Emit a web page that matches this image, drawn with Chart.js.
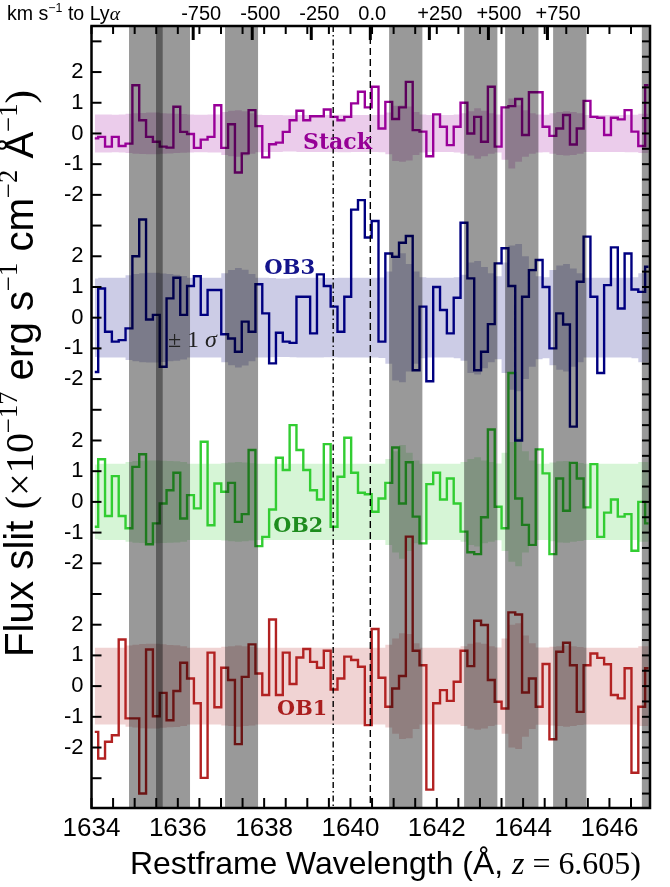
<!DOCTYPE html>
<html>
<head>
<meta charset="utf-8">
<script src="https://cdn.jsdelivr.net/npm/chart.js@4.4.0/dist/chart.umd.min.js"></script>
<style>
  html, body { margin: 0; padding: 0; background: #fff; }
  canvas { display: block; }
</style>
</head>
<body>
<canvas id="spec" width="670" height="887"></canvas>
<script>
// restframe wavelength of the first pixel and pixel size (A)
const WAVE_START = 1634.076
const WAVE_STEP = 0.1584

// flux per pixel (1e-17 erg/s/cm2/A)
const stackFlux = [-0.16, -0.11, -0.43, -0.11, -0.41, -0.33, 1.57, 0.43, -0.11, -0.27,
  -0.43, -0.46, 0.87, 0.05, -0.02, -0.47, -0.20, -0.11, 0.92, -0.47,
  0.30, -1.27, -0.65, 0.76, 0.24, -0.78, -0.35, -0.30, 0.05, 0.43,
  0.74, 0.43, 0.56, 0.56, 0.78, 0.54, 0.43, 0.54, 0.98, 1.36,
  0.85, 1.52, 0.16, 1.03, 0.47, 0.85, 1.68, 0.11, 0.06, -0.74,
  0.62, 0.22, -0.38, 0.22, 1.00, 0.00, 0.54, -0.27, 1.52, -0.43,
  0.85, 0.89, 1.12, -0.05, 1.34, 1.34, 0.22, -0.08, 0.16, 0.60,
  -0.36, 0.16, 1.06, 0.54, 0.51, -0.05, 0.51, 0.46, 0.76, 0.06,
  -0.41, 1.57]
const ob3Flux = [-1.77, 0.95, -0.46, -0.78, -0.73, -0.35, 2.00, 3.20, -0.06, 0.09,
  -1.60, 0.63, 1.30, 0.09, 1.03, 1.35, 0.09, 0.90, 0.90, -0.54,
  -0.68, -1.11, -0.13, -0.46, 1.09, 0.14, -1.49, -0.49, -0.78, -0.82,
  0.68, 0.68, -0.51, 1.41, 1.03, 0.36, -0.46, 0.68, 3.52, 3.83,
  2.61, 3.15, -0.78, 2.09, 1.98, 2.44, 2.66, -1.71, 0.36, -2.07,
  1.00, 0.25, -0.51, 0.65, 3.09, 1.28, -1.71, -1.11, -0.21, 1.77,
  2.26, 1.03, -4.00, 0.68, 1.55, 1.88, 1.00, -1.00, 0.14, -0.22,
  -3.55, 1.17, 2.64, 0.68, -1.80, 1.06, 2.29, 0.30, 2.09, 0.92,
  0.84, 1.66]
const ob2Flux = [-0.81, 1.39, -0.46, 0.84, -0.46, -0.86, 1.14, 1.55, -1.38, -0.70,
  -0.05, 0.38, 0.95, -0.54, 0.22, -0.21, 1.96, -0.76, 0.60, 0.33,
  0.62, -0.65, -0.40, 1.69, -1.44, -1.14, -0.25, 1.44, 1.04, 2.50,
  1.69, 1.04, 0.38, 0.08, 1.88, -0.81, 0.82, 2.09, 0.95, 0.30,
  0.25, -0.32, 0.11, 0.62, 1.77, -0.05, 1.29, -0.48, -1.35, 0.58,
  0.95, 0.08, 0.76, -0.05, -0.97, -1.64, -1.70, -0.50, 2.36, -0.16,
  -0.86, 4.20, 0.11, -0.75, -1.40, 1.71, 0.93, -1.70, 0.76, -0.29,
  1.27, 0.76, -0.18, 1.23, -1.14, -0.35, 0.08, -0.48, -0.40, -1.59,
  0.00, -0.70]
const ob1Flux = [-1.49, -2.36, -1.81, -1.60, 1.52, -1.05, -1.05, -3.50, 1.19, -0.98,
  -0.22, -1.11, -0.16, 0.76, 0.25, -0.56, -2.99, 1.09, -0.69, 0.60,
  0.20, -1.89, 0.30, 1.36, 0.41, -0.29, 2.17, -0.29, 1.09, 0.07,
  0.93, 1.21, 0.79, 0.60, 1.15, -0.11, 0.25, 0.96, 0.85, 0.63,
  -1.27, 1.86, 0.27, -0.67, -0.08, 0.33, 4.87, 1.15, 0.68, -3.37,
  -0.56, -0.13, -0.48, 0.14, 1.15, 0.65, 2.13, 1.99, 0.20, -0.51,
  -0.73, 2.40, 2.33, -0.21, 0.25, -0.67, 0.72, -1.73, 1.12, 1.41,
  0.68, -0.84, 0.68, 1.06, 0.92, 0.71, -0.29, -0.40, 0.58, -2.82,
  -0.67, 0.58]

// 1 sigma noise per pixel
const stackSigma = [0.62, 0.62, 0.62, 0.61, 0.62, 0.64, 0.66, 0.67, 0.68, 0.68,
  0.66, 0.65, 0.64, 0.63, 0.62, 0.61, 0.61, 0.62, 0.62, 0.70,
  0.74, 0.76, 0.72, 0.66, 0.61, 0.60, 0.60, 0.60, 0.59, 0.59,
  0.60, 0.60, 0.60, 0.60, 0.60, 0.60, 0.61, 0.61, 0.60, 0.60,
  0.60, 0.60, 0.61, 0.68, 0.90, 0.92, 0.88, 0.70, 0.62, 0.60,
  0.60, 0.60, 0.60, 0.62, 0.66, 0.72, 0.82, 0.74, 0.66, 0.62,
  0.86, 1.14, 0.92, 0.76, 0.66, 0.62, 0.61, 0.66, 0.70, 0.72,
  0.70, 0.66, 0.60, 0.60, 0.60, 0.60, 0.60, 0.60, 0.61, 0.61,
  0.64, 0.64]
const ob3Sigma = [1.28, 1.30, 1.30, 1.30, 1.30, 1.38, 1.42, 1.45, 1.46, 1.46,
  1.44, 1.42, 1.40, 1.36, 1.30, 1.30, 1.30, 1.30, 1.30, 1.45,
  1.55, 1.62, 1.56, 1.42, 1.30, 1.30, 1.29, 1.28, 1.28, 1.29,
  1.30, 1.30, 1.30, 1.30, 1.29, 1.29, 1.30, 1.30, 1.30, 1.30,
  1.30, 1.30, 1.31, 1.50, 2.05, 2.10, 1.75, 1.50, 1.32, 1.30,
  1.30, 1.30, 1.30, 1.32, 1.40, 1.80, 1.85, 1.65, 1.45, 1.35,
  1.80, 2.35, 2.40, 2.00, 1.60, 1.35, 1.32, 1.55, 1.70, 1.75,
  1.60, 1.45, 1.30, 1.30, 1.30, 1.30, 1.30, 1.30, 1.30, 1.32,
  1.45, 1.45]
const ob2Sigma = [1.22, 1.24, 1.24, 1.24, 1.24, 1.30, 1.33, 1.34, 1.35, 1.35,
  1.34, 1.33, 1.32, 1.30, 1.24, 1.24, 1.24, 1.24, 1.24, 1.26,
  1.28, 1.30, 1.28, 1.26, 1.24, 1.24, 1.24, 1.24, 1.24, 1.24,
  1.24, 1.24, 1.24, 1.24, 1.24, 1.24, 1.24, 1.24, 1.24, 1.24,
  1.24, 1.24, 1.24, 1.40, 1.65, 1.85, 1.60, 1.35, 1.24, 1.24,
  1.24, 1.24, 1.24, 1.24, 1.30, 1.40, 1.45, 1.35, 1.30, 1.25,
  1.60, 1.95, 2.10, 1.65, 1.35, 1.24, 1.24, 1.28, 1.32, 1.33,
  1.30, 1.27, 1.24, 1.24, 1.24, 1.24, 1.24, 1.24, 1.24, 1.24,
  1.30, 1.30]
const ob1Sigma = [1.25, 1.25, 1.25, 1.25, 1.25, 1.32, 1.35, 1.37, 1.38, 1.38,
  1.36, 1.34, 1.33, 1.30, 1.25, 1.25, 1.25, 1.25, 1.25, 1.28,
  1.30, 1.32, 1.30, 1.28, 1.25, 1.25, 1.25, 1.25, 1.25, 1.25,
  1.25, 1.25, 1.25, 1.25, 1.25, 1.25, 1.25, 1.25, 1.25, 1.25,
  1.25, 1.25, 1.25, 1.35, 1.55, 1.72, 1.70, 1.40, 1.25, 1.25,
  1.25, 1.25, 1.25, 1.25, 1.30, 1.38, 1.42, 1.38, 1.30, 1.26,
  1.55, 2.00, 2.05, 1.65, 1.40, 1.26, 1.26, 1.28, 1.30, 1.32,
  1.30, 1.27, 1.25, 1.25, 1.25, 1.25, 1.25, 1.25, 1.25, 1.25,
  1.30, 1.30]

// sky line residual regions (A)
const skyBands = [[1634.869, 1635.650], [1635.495, 1636.283], [1637.094, 1637.859],
  [1640.895, 1641.666], [1642.633, 1643.404], [1643.583, 1644.355],
  [1644.695, 1645.466], [1646.751, 1647.200]]

const HEII = 1640.46     // dashed line, velocity zero
const SYSTEMIC = 1639.60 // dash-dot line

const xTicks = [1634, 1636, 1638, 1640, 1642, 1644, 1646]
const yTickValues = [-2, -1, 0, 1, 2]
const velocities = [-750, -500, -250, 0, 250, 500, 750]
const velocityLabels = ['-750', '-500', '-250', '0.0', '+250', '+500', '+750']

const SANS = '"Liberation Sans", Arial, sans-serif'
const SERIF = '"Liberation Serif", "Times New Roman", serif'
const BOLD_SERIF = '"DejaVu Serif", serif'

const spectra = [
  { flux: stackFlux, sigma: stackSigma, offset: 18, line: '#990099', shade: 'rgba(153,0,153,0.2)' },
  { flux: ob3Flux, sigma: ob3Sigma, offset: 12, line: '#000080', shade: 'rgba(0,0,128,0.2)' },
  { flux: ob2Flux, sigma: ob2Sigma, offset: 6, line: '#32cd32', shade: 'rgba(50,205,50,0.2)' },
  { flux: ob1Flux, sigma: ob1Sigma, offset: 0, line: '#b22222', shade: 'rgba(178,34,34,0.2)' }
]
const offsets = spectra.map(s => s.offset)

const wave = stackFlux.map((_, i) => WAVE_START + i * WAVE_STEP)

const datasets = []
spectra.forEach(s => {
  datasets.push({
    data: wave.map((w, i) => ({ x: w, y: s.offset + s.sigma[i] })),
    borderWidth: 0, borderColor: 'transparent', pointRadius: 0,
    fill: false, stepped: 'middle', order: 3, clip: 0
  })
  datasets.push({
    data: wave.map((w, i) => ({ x: w, y: s.offset - s.sigma[i] })),
    borderWidth: 0, borderColor: 'transparent', pointRadius: 0,
    fill: '-1', backgroundColor: s.shade, stepped: 'middle', order: 3, clip: 0
  })
  datasets.push({
    data: wave.map((w, i) => ({ x: w, y: s.offset + s.flux[i] })),
    borderColor: s.line, borderWidth: 2.4, pointRadius: 0,
    borderJoinStyle: 'miter', fill: false, stepped: 'middle', order: 1, clip: 0
  })
})

// text made of several font runs, stretched to a given width
function drawRuns(ctx, runs, x, y, width) {
  const font = (r, k) => `${r.style || ''} ${r.size * k}px ${r.family}`
  let w = 0
  runs.forEach(r => { ctx.font = font(r, 1); w += ctx.measureText(r.t).width })
  const k = width ? width / w : 1
  let cx = x
  runs.forEach(r => {
    ctx.font = font(r, k)
    ctx.fillText(r.t, cx, y - (r.rise || 0) * k)
    cx += ctx.measureText(r.t).width
  })
}

const decorations = {
  id: 'decorations',
  afterDraw(chart) {
    const { ctx, chartArea: a, scales: { x, y } } = chart
    ctx.save()
    ctx.textAlign = 'left'
    ctx.textBaseline = 'alphabetic'

    // sky bands on top of the spectra
    ctx.fillStyle = 'rgba(0,0,0,0.4)'
    skyBands.forEach(([l0, l1]) => {
      const x0 = Math.max(x.getPixelForValue(l0), a.left)
      const x1 = Math.min(x.getPixelForValue(l1), a.right)
      if (x1 > x0) ctx.fillRect(x0, a.top, x1 - x0, a.bottom - a.top)
    })

    // reference lines
    ctx.strokeStyle = '#000'
    ctx.lineWidth = 1.4
    ctx.setLineDash([6, 3, 1.5, 3])
    let px = x.getPixelForValue(SYSTEMIC)
    ctx.beginPath(); ctx.moveTo(px, a.top); ctx.lineTo(px, a.bottom); ctx.stroke()
    ctx.setLineDash([7, 4])
    px = x.getPixelForValue(HEII)
    ctx.beginPath(); ctx.moveTo(px, a.top); ctx.lineTo(px, a.bottom); ctx.stroke()
    ctx.setLineDash([])

    // panel labels
    const label = (runs, lam, val, color, width) => {
      ctx.fillStyle = color
      drawRuns(ctx, runs, x.getPixelForValue(lam), y.getPixelForValue(val), width)
    }
    const bold = t => [{ t, style: 'bold', size: 22, family: BOLD_SERIF }]
    label(bold('Stack'), 1638.90, 17.49, '#960096', 69)
    label(bold('OB3'), 1638.00, 13.42, '#14148c', 51)
    label([{ t: '± 1 ', size: 22, family: SERIF }, { t: 'σ', style: 'italic', size: 22, family: SERIF }],
      1635.77, 11.05, '#222', 49)
    label(bold('OB2'), 1638.21, 5.03, '#1e8c1e', 50)
    label(bold('OB1'), 1638.30, -0.94, '#aa1e1e', 50)

    // frame and inward ticks
    ctx.strokeStyle = '#000'
    ctx.lineWidth = 2
    const tick = (x0, y0, x1, y1) => { ctx.beginPath(); ctx.moveTo(x0, y0); ctx.lineTo(x1, y1); ctx.stroke() }
    for (let lam = 1634; lam <= x.max; lam += 0.5) {
      const p = x.getPixelForValue(lam)
      tick(p, a.bottom, p, a.bottom - 10)
      tick(p, a.top, p, a.top + 8)
    }
    for (let v = Math.ceil(y.min); v <= y.max; v++) {
      const p = y.getPixelForValue(v)
      tick(a.left, p, a.left + 10, p)
    }
    for (let v = Math.ceil(y.min * 2) / 2; v <= y.max; v += 0.5) {
      const p = y.getPixelForValue(v)
      tick(a.right, p, a.right - 8, p)
    }
    ctx.lineWidth = 3
    ctx.fillStyle = '#000'
    ctx.font = `20px ${SANS}`
    velocities.forEach((v, i) => {
      const p = x.getPixelForValue(HEII * (1 + v / 299792.458))
      tick(p, a.top, p, a.top + 14)
      ctx.fillText(velocityLabels[i], p - 12, 20)
    })
    ctx.lineWidth = 2.5
    ctx.strokeRect(a.left, a.top, a.right - a.left, a.bottom - a.top)

    // titles
    drawRuns(ctx, [{ t: 'km s', size: 19, family: SANS }, { t: '−1', size: 12, rise: 8, family: SANS },
      { t: ' to Ly', size: 19, family: SANS }, { t: 'α', style: 'italic', size: 19, family: SERIF }], 7, 20, 113)
    drawRuns(ctx, [{ t: 'Restframe Wavelength (Å, ', size: 31.5, family: SANS },
      { t: 'z', style: 'italic', size: 31.5, family: SERIF }, { t: ' = 6.605)', size: 31.5, family: SERIF }],
      130, 874, 511)
    ctx.translate(33, 657)
    ctx.rotate(-Math.PI / 2)
    const sup = t => ({ t, size: 23, rise: 14, family: SERIF })
    drawRuns(ctx, [{ t: 'Flux slit ', size: 35, family: SANS }, { t: '(×10', size: 35, family: SERIF }, sup('−17'),
      { t: ' erg s', size: 35, family: SANS }, sup('−1'), { t: ' cm', size: 35, family: SANS }, sup('−2'),
      { t: ' Å', size: 35, family: SANS }, sup('−1'), { t: ')', size: 35, family: SERIF }], 0, 0, 567)
    ctx.restore()
  }
}

new Chart(document.getElementById('spec'), {
  type: 'line',
  data: { datasets },
  options: {
    responsive: false,
    animation: false,
    devicePixelRatio: 1,
    events: [],
    layout: { padding: { top: 26, right: 20, left: 0, bottom: 0 } },
    plugins: { legend: { display: false }, tooltip: { enabled: false } },
    scales: {
      x: {
        type: 'linear', min: 1634, max: 1646.94,
        grid: { display: false, drawTicks: false }, border: { display: false },
        afterBuildTicks: s => { s.ticks = xTicks.map(v => ({ value: v })) },
        afterFit: s => { s.height = 79 },
        ticks: { color: '#000', font: { family: SANS, size: 26 }, padding: 5, maxRotation: 0, autoSkip: false,
          callback: v => String(v) }
      },
      y: {
        type: 'linear', min: -3.97, max: 21.5,
        grid: { display: false, drawTicks: false }, border: { display: false },
        afterBuildTicks: s => {
          s.ticks = offsets.flatMap(o => yTickValues.map(n => ({ value: o + n })))
        },
        afterFit: s => { s.width = 91.5 },
        ticks: { color: '#000', font: { family: SANS, size: 22 }, padding: 8, autoSkip: false,
          callback: v => {
            const o = offsets.find(o => Math.abs(v - o) <= 2)
            return o === undefined ? '' : String(Math.round(v - o))
          } }
      }
    }
  },
  plugins: [decorations]
})
</script>
</body>
</html>
